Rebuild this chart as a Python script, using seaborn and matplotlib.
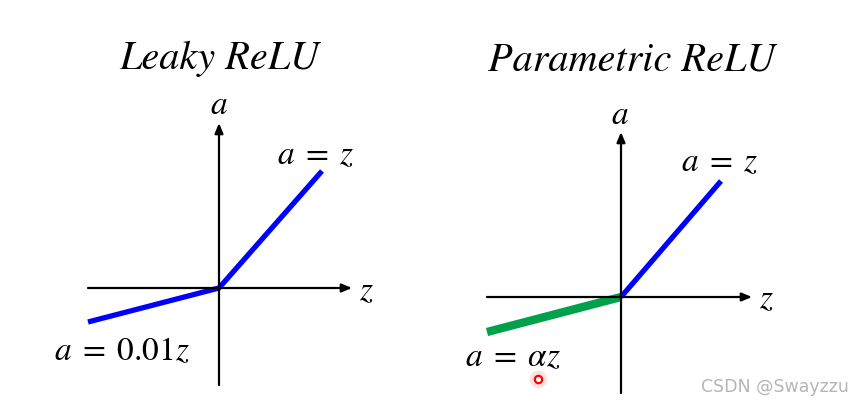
import seaborn as sns
import matplotlib.pyplot as plt
import pandas as pd

sns.set_style("white")
plt.rcParams['mathtext.fontset'] = 'stix'

# Leaky ReLU, values (1 unit ~ 100 px)
leaky_z = [-1.31, 0.0, 1.03]
leaky_a = [-0.34, 0.0, 1.17]
leaky_xaxis = [-1.31, 1.33]
leaky_yaxis = [-0.97, 1.65]

# Parametric ReLU
prelu_pos_z = [0.0, 1.00]
prelu_pos_a = [0.0, 1.16]
prelu_neg_z = [-1.34, 0.0]
prelu_neg_a = [-0.35, 0.0]
prelu_xaxis = [-1.34, 1.31]
prelu_yaxis = [-0.96, 1.65]

W, H = 862, 409
fig = plt.figure(figsize=(W / 100, H / 100), dpi=100)

def make_axes(cx, cy):
    # axes of 400 px width, full height, 1 unit = 100 px
    ax = fig.add_axes([(cx - 200) / W, 0, 400 / W, 1])
    ax.set_xlim(-2, 2)
    ax.set_ylim(-(H - cy) / 100, cy / 100)
    ax.axis('off')
    return ax

def draw_axes(ax, xr, yr):
    arrow = dict(arrowstyle='-|>,head_length=0.6,head_width=0.25', color='black', lw=1.6,
                 shrinkA=0, shrinkB=0)
    ax.annotate('', xy=(xr[1], 0), xytext=(xr[0], 0), arrowprops=arrow)
    ax.annotate('', xy=(0, yr[1]), xytext=(0, yr[0]), arrowprops=arrow)

title_font = dict(family='STIXGeneral', style='italic', fontsize=29, ha='center',
                  va='center', color='black')
lab = dict(fontsize=24, ha='center', va='center', color='black')

# left panel
ax1 = make_axes(219, 288)
draw_axes(ax1, leaky_xaxis, leaky_yaxis)
sns.lineplot(x=leaky_z, y=leaky_a, ax=ax1, color='#0000ff', lw=3.8, sort=False,
             solid_capstyle='butt', solid_joinstyle='round')
ax1.text(0, 2.29, 'Leaky ReLU', **title_font)
ax1.text(0, 1.83, '$a$', **lab)
ax1.text(1.47, -0.03, '$z$', **lab)
ax1.text(0.97, 1.33, '$a\\;=\\;z$', **lab)
ax1.text(-0.97, -0.63, '$a\\;=\\;0.01z$', **lab)

# right panel
ax2 = make_axes(621, 297)
draw_axes(ax2, prelu_xaxis, prelu_yaxis)
sns.lineplot(x=prelu_neg_z, y=prelu_neg_a, ax=ax2, color='#00a14b', lw=6.0,
             solid_capstyle='butt')
sns.lineplot(x=prelu_pos_z, y=prelu_pos_a, ax=ax2, color='#0000ff', lw=3.8,
             solid_capstyle='butt')
ax2.text(0.11, 2.37, 'Parametric ReLU', **title_font)
ax2.text(-0.01, 1.82, '$a$', **lab)
ax2.text(1.45, -0.02, '$z$', **lab)
ax2.text(0.99, 1.35, '$a\\;=\\;z$', **lab)
ax2.text(-1.08, -0.60, '$a\\;=\\;\\alpha z$', **lab)

# cursor dot
ax2.scatter([-0.83], [-0.82], s=160, color='red', alpha=0.12, lw=0)
ax2.scatter([-0.83], [-0.82], s=28, facecolor='white', edgecolor='red', lw=1.6)

fig.text(775 / W, 1 - 387 / H, 'CSDN @Swayzzu', color='#b5b5b5', fontsize=12.5,
         ha='center', va='center')

fig.savefig('out.png', dpi=100)
